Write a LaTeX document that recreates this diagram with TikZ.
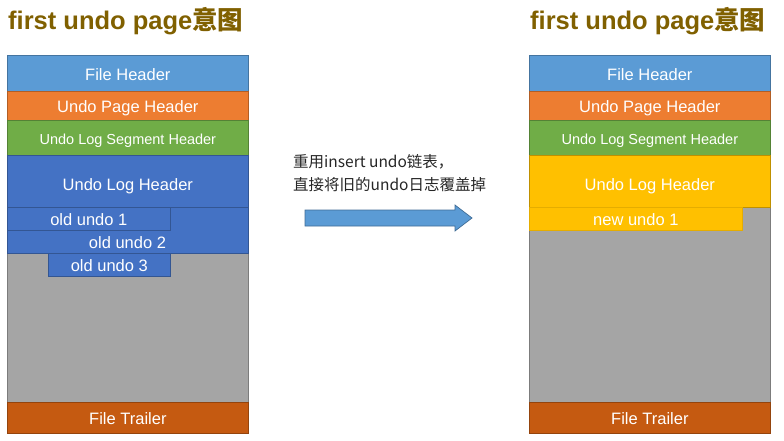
\documentclass[tikz,border=0pt]{standalone}
\usepackage{fontspec}
\setmainfont{Liberation Sans}
\newfontfamily\cjk{Noto Sans CJK SC}
\definecolor{fileblue}{HTML}{5B9BD5}
\definecolor{pageorange}{HTML}{ED7D31}
\definecolor{seggreen}{HTML}{70AD47}
\definecolor{logblue}{HTML}{4472C4}
\definecolor{logyellow}{HTML}{FFC000}
\definecolor{trailerred}{HTML}{C55A11}
\definecolor{freegray}{HTML}{A5A5A5}
\definecolor{titlebrown}{HTML}{806000}
\tikzset{
  layer/.style={rectangle, inner sep=0pt, anchor=north west, minimum width=241pt,
    text=white, fill=#1, draw=#1!75!black, line width=0.7pt,
    text height=14pt, text depth=0pt, font=\fontsize{16.5}{18}\selectfont},
  title/.style={anchor=west, inner sep=0pt, text=titlebrown,
    font=\fontsize{25.5}{27}\selectfont\bfseries}
}
\begin{document}
\begin{tikzpicture}[x=1pt, y=-1pt]
\useasboundingbox (0,0) rectangle (784,441);
\foreach \col/\x in {l/7, r/529}
{
    \node[title] (\col-title) at (\x+1,21) {first undo page{\cjk 意图}};
    \node[layer=fileblue, minimum height=36pt] (\col-file) at (\x,55) {File Header};
    \node[layer=pageorange, minimum height=29pt] (\col-page) at (\x,91) {Undo Page Header};
    \node[layer=seggreen, minimum height=35pt, font=\fontsize{14.5}{16}\selectfont] (\col-seg) at (\x,120) {Undo Log Segment Header};
    \node[layer=freegray, minimum height=195pt] (\col-free) at (\x,207) {};
    \node[layer=trailerred, minimum height=31pt] (\col-trailer) at (\x,402) {File Trailer};
}
\node[layer=logblue, minimum height=52pt, text height=18pt] (l-log) at (7,155) {Undo Log Header};
\node[layer=logyellow, minimum height=52pt, text height=18pt] (r-log) at (529,155) {Undo Log Header};
\node[layer=logblue, minimum height=46pt] (l-old) at (7,207) {};
\node[layer=logblue, minimum width=163pt, minimum height=23pt] (l-old1) at (7,207) {old undo 1};
\node[text=white, font=\fontsize{16.5}{18}\selectfont, inner sep=0pt, text height=14pt, text depth=0pt] (l-old2) at (127.5,241.5) {old undo 2};
\node[layer=logblue, minimum width=122pt, minimum height=23pt] (l-old3) at (48,253) {old undo 3};
\node[layer=logyellow, draw=logyellow!90!black, minimum width=213pt, minimum height=23pt] (r-new1) at (529,207) {new undo 1};
\node[anchor=north west, align=left, inner sep=0pt, text=black!85, font=\cjk\fontsize{15.5}{23}\selectfont] (note) at (293,154)
    {重用insert undo链表，\\直接将旧的undo日志覆盖掉};
\draw[fill=fileblue, draw=fileblue!70!black, line width=0.7pt]
    (305,210)--(455,210)--(455,205)--(472,218)--(455,231)--(455,226)--(305,226)--cycle;
\end{tikzpicture}
\end{document}
